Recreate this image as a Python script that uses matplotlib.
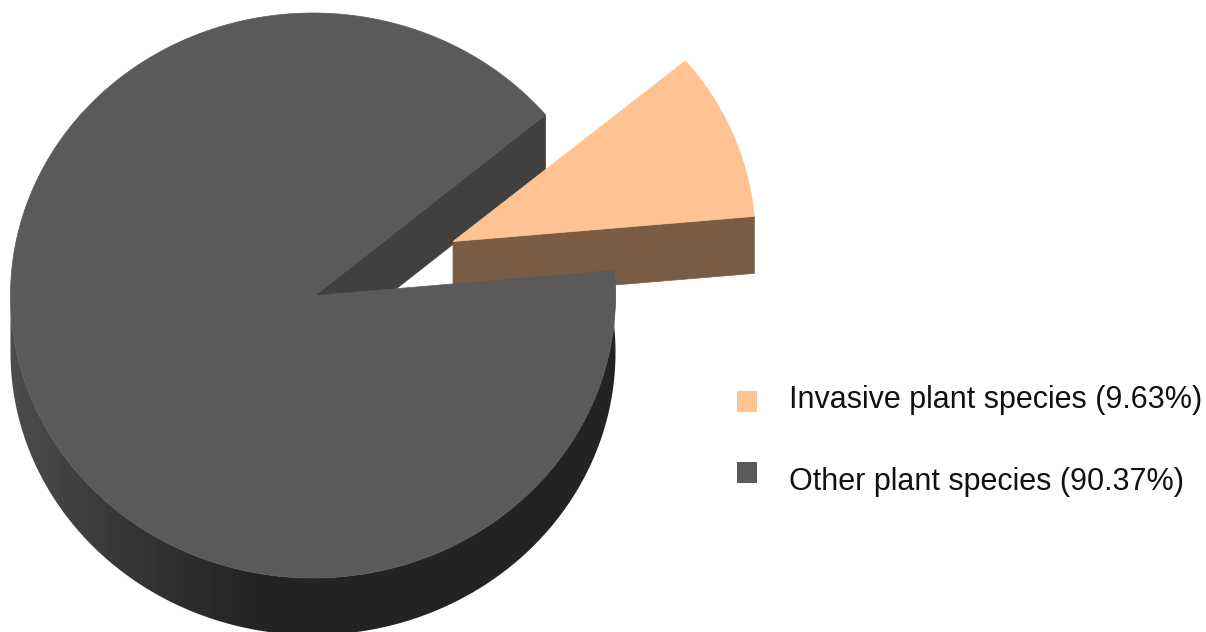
import numpy as np
import matplotlib
matplotlib.use('Agg')
import matplotlib.pyplot as plt
from matplotlib.patches import Polygon, Rectangle

# data
labels = ['Invasive plant species (9.63%)', 'Other plant species (90.37%)']
values = [9.63, 90.37]
colors = ['#FFC393', '#5A5A5A']
side_colors = ['#7A5C45', '#404040']

plt.rcParams['font.family'] = ['Liberation Sans', 'DejaVu Sans']

# pie geometry, in pixels of the picture
cx, cy = 313, 295.5
rx, ry = 302.5, 282.5
depth = 57
start = 5.1
explode_x, explode_y = 140, -54


def arc(t1, t2, x0=cx, y0=cy, n=300):
    t = np.radians(np.linspace(t1, t2, n))
    return np.column_stack([x0 + rx * np.cos(t), y0 - ry * np.sin(t)])


fig = plt.figure(figsize=(12.06, 6.32), dpi=100)
ax = fig.add_axes([0, 0, 1, 1])

a1 = start
a2 = start + values[0] / sum(values) * 360
edge = arc(a2, a2, n=1)[0]
apex = np.array([cx + 2, cy])
low = np.array([0, depth])

# inner wall of the gap in the big slice
ax.add_patch(Polygon([apex, edge, edge + low, apex + low], color=side_colors[1], lw=0.5, zorder=1))

# exploded slice
ox, oy = cx + explode_x, cy + explode_y
apex2 = np.array([ox, oy])
edge2 = arc(a1, a1, ox, oy, n=1)[0]
ax.add_patch(Polygon([apex2, edge2, edge2 + low, apex2 + low], color=side_colors[0], lw=0.5, zorder=2))
ax.add_patch(Polygon(np.vstack([apex2, arc(a1, a2, ox, oy)]), color=colors[0], lw=0.5, zorder=3))

# outer wall of the big slice, dark gradient from the left
wall = np.vstack([arc(180, 360 + a1), arc(180, 360 + a1, cx, cy + depth)[::-1]])
clip = Polygon(wall, transform=ax.transData, fc='none', lw=0)
ax.add_patch(clip)
grad = np.interp(np.linspace(0, 1206, 1206), [10, 130, 260, 1206], [0.30, 0.21, 0.137, 0.137])
img = ax.imshow(np.tile(grad, (4, 1)), cmap='gray', vmin=0, vmax=1, extent=[0, 1206, 632, 0],
                aspect='auto', zorder=4)
img.set_clip_path(clip)

# top of the big slice
ax.add_patch(Polygon(np.vstack([apex, arc(a2, 360 + a1)]), color=colors[1], lw=0.5, zorder=5))

# legend
for lab, col, my, ty in zip(labels, colors, [401.5, 472.5], [400, 482]):
    ax.add_patch(Rectangle((737, my - 10.5), 20, 21, color=col, lw=0, zorder=6))
    ax.text(789, ty, lab, fontsize=22, color='#111111', va='center', ha='left', zorder=6)

ax.set_xlim(0, 1206)
ax.set_ylim(632, 0)
ax.axis('off')
fig.savefig('out.png', dpi=100)
